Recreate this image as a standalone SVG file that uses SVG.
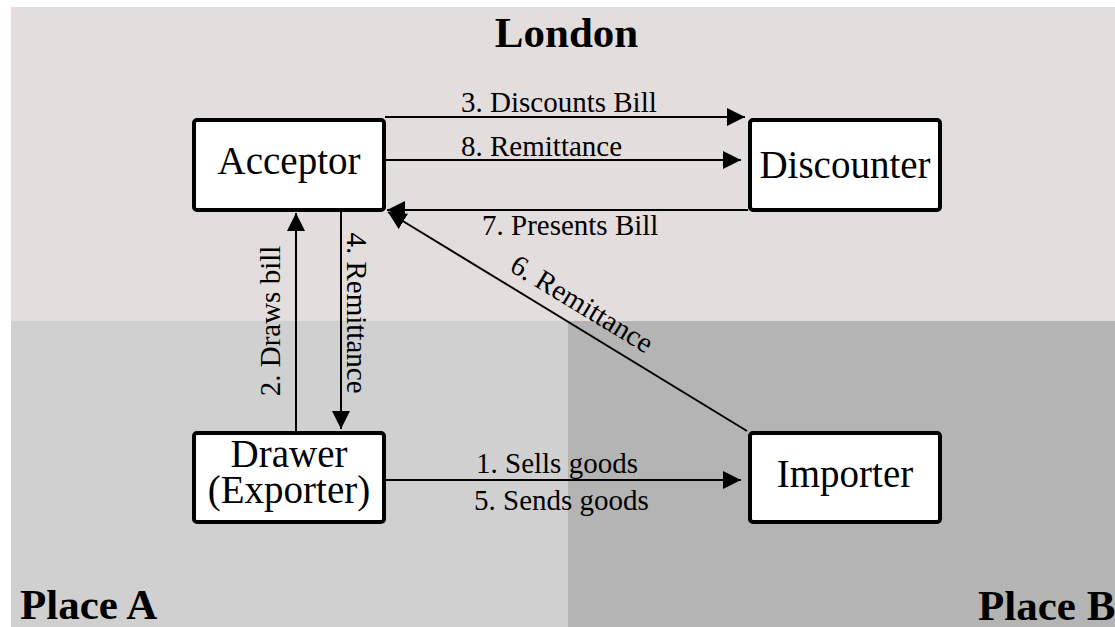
<svg xmlns="http://www.w3.org/2000/svg" width="1115" height="627" viewBox="0 0 1115 627">
<style>
.node rect{fill:#ffffff;stroke:#000000;stroke-width:4}
.nt{font-family:"Liberation Serif","Times New Roman",serif;font-size:39px;fill:#000;text-anchor:middle}
.lbl{font-family:"Liberation Serif","Times New Roman",serif;font-size:29px;fill:#000}
.title{font-family:"Liberation Serif","Times New Roman",serif;font-size:43px;font-weight:bold;fill:#000}
.conn line{stroke:#000;stroke-width:2;fill:none}
</style>
<defs>
<marker id="ah" markerUnits="userSpaceOnUse" markerWidth="18" markerHeight="18" refX="18" refY="9" orient="auto">
<path d="M0,0 L18,9 L0,18 z" fill="#000"/>
</marker>
</defs>
<rect x="0" y="0" width="1115" height="627" fill="#ffffff"/>
<g id="regions">
<rect x="11" y="7" width="1104" height="314" fill="#e3dddd"/>
<rect x="11" y="321" width="557" height="306" fill="#d0d0d0"/>
<rect x="568" y="321" width="547" height="306" fill="#b4b4b4"/>
<text class="title" x="566.5" y="47" text-anchor="middle">London</text>
<text class="title" x="20" y="619">Place A</text>
<text class="title" x="978" y="620">Place B</text>
</g>
<g id="connectors" class="conn">
<line x1="385" y1="117" x2="745" y2="117" marker-end="url(#ah)"/>
<line x1="385" y1="160" x2="741" y2="160" marker-end="url(#ah)"/>
<line x1="748" y1="210" x2="387" y2="210" marker-end="url(#ah)"/>
<line x1="747" y1="431" x2="388" y2="212" marker-end="url(#ah)"/>
<line x1="296" y1="431" x2="296" y2="213" marker-end="url(#ah)"/>
<line x1="341" y1="211" x2="341" y2="429" marker-end="url(#ah)"/>
<line x1="386" y1="480" x2="741" y2="480" marker-end="url(#ah)"/>
<text class="lbl" x="461" y="112">3. Discounts Bill</text>
<text class="lbl" x="461" y="156">8. Remittance</text>
<text class="lbl" x="482" y="235">7. Presents Bill</text>
<text class="lbl" x="476" y="473">1. Sells goods</text>
<text class="lbl" x="474" y="510">5. Sends goods</text>
<text class="lbl" text-anchor="middle" transform="translate(280,321) rotate(-90)">2. Draws bill</text>
<text class="lbl" text-anchor="middle" transform="translate(347,313) rotate(90)">4. Remittance</text>
<text class="lbl" text-anchor="middle" transform="translate(577,312) rotate(31.3)">6. Remittance</text>
</g>
<g id="acceptor" class="node">
<rect x="194" y="120" width="190" height="90" rx="3"/>
<text class="nt" x="289" y="174">Acceptor</text>
</g>
<g id="discounter" class="node">
<rect x="750" y="120" width="190" height="90" rx="3"/>
<text class="nt" x="845" y="178">Discounter</text>
</g>
<g id="drawer" class="node">
<rect x="194" y="433" width="190" height="89" rx="3"/>
<text class="nt" x="289" y="467">Drawer</text>
<text class="nt" x="289" y="503">(Exporter)</text>
</g>
<g id="importer" class="node">
<rect x="750" y="433" width="190" height="89" rx="3"/>
<text class="nt" x="845" y="487">Importer</text>
</g>
</svg>
